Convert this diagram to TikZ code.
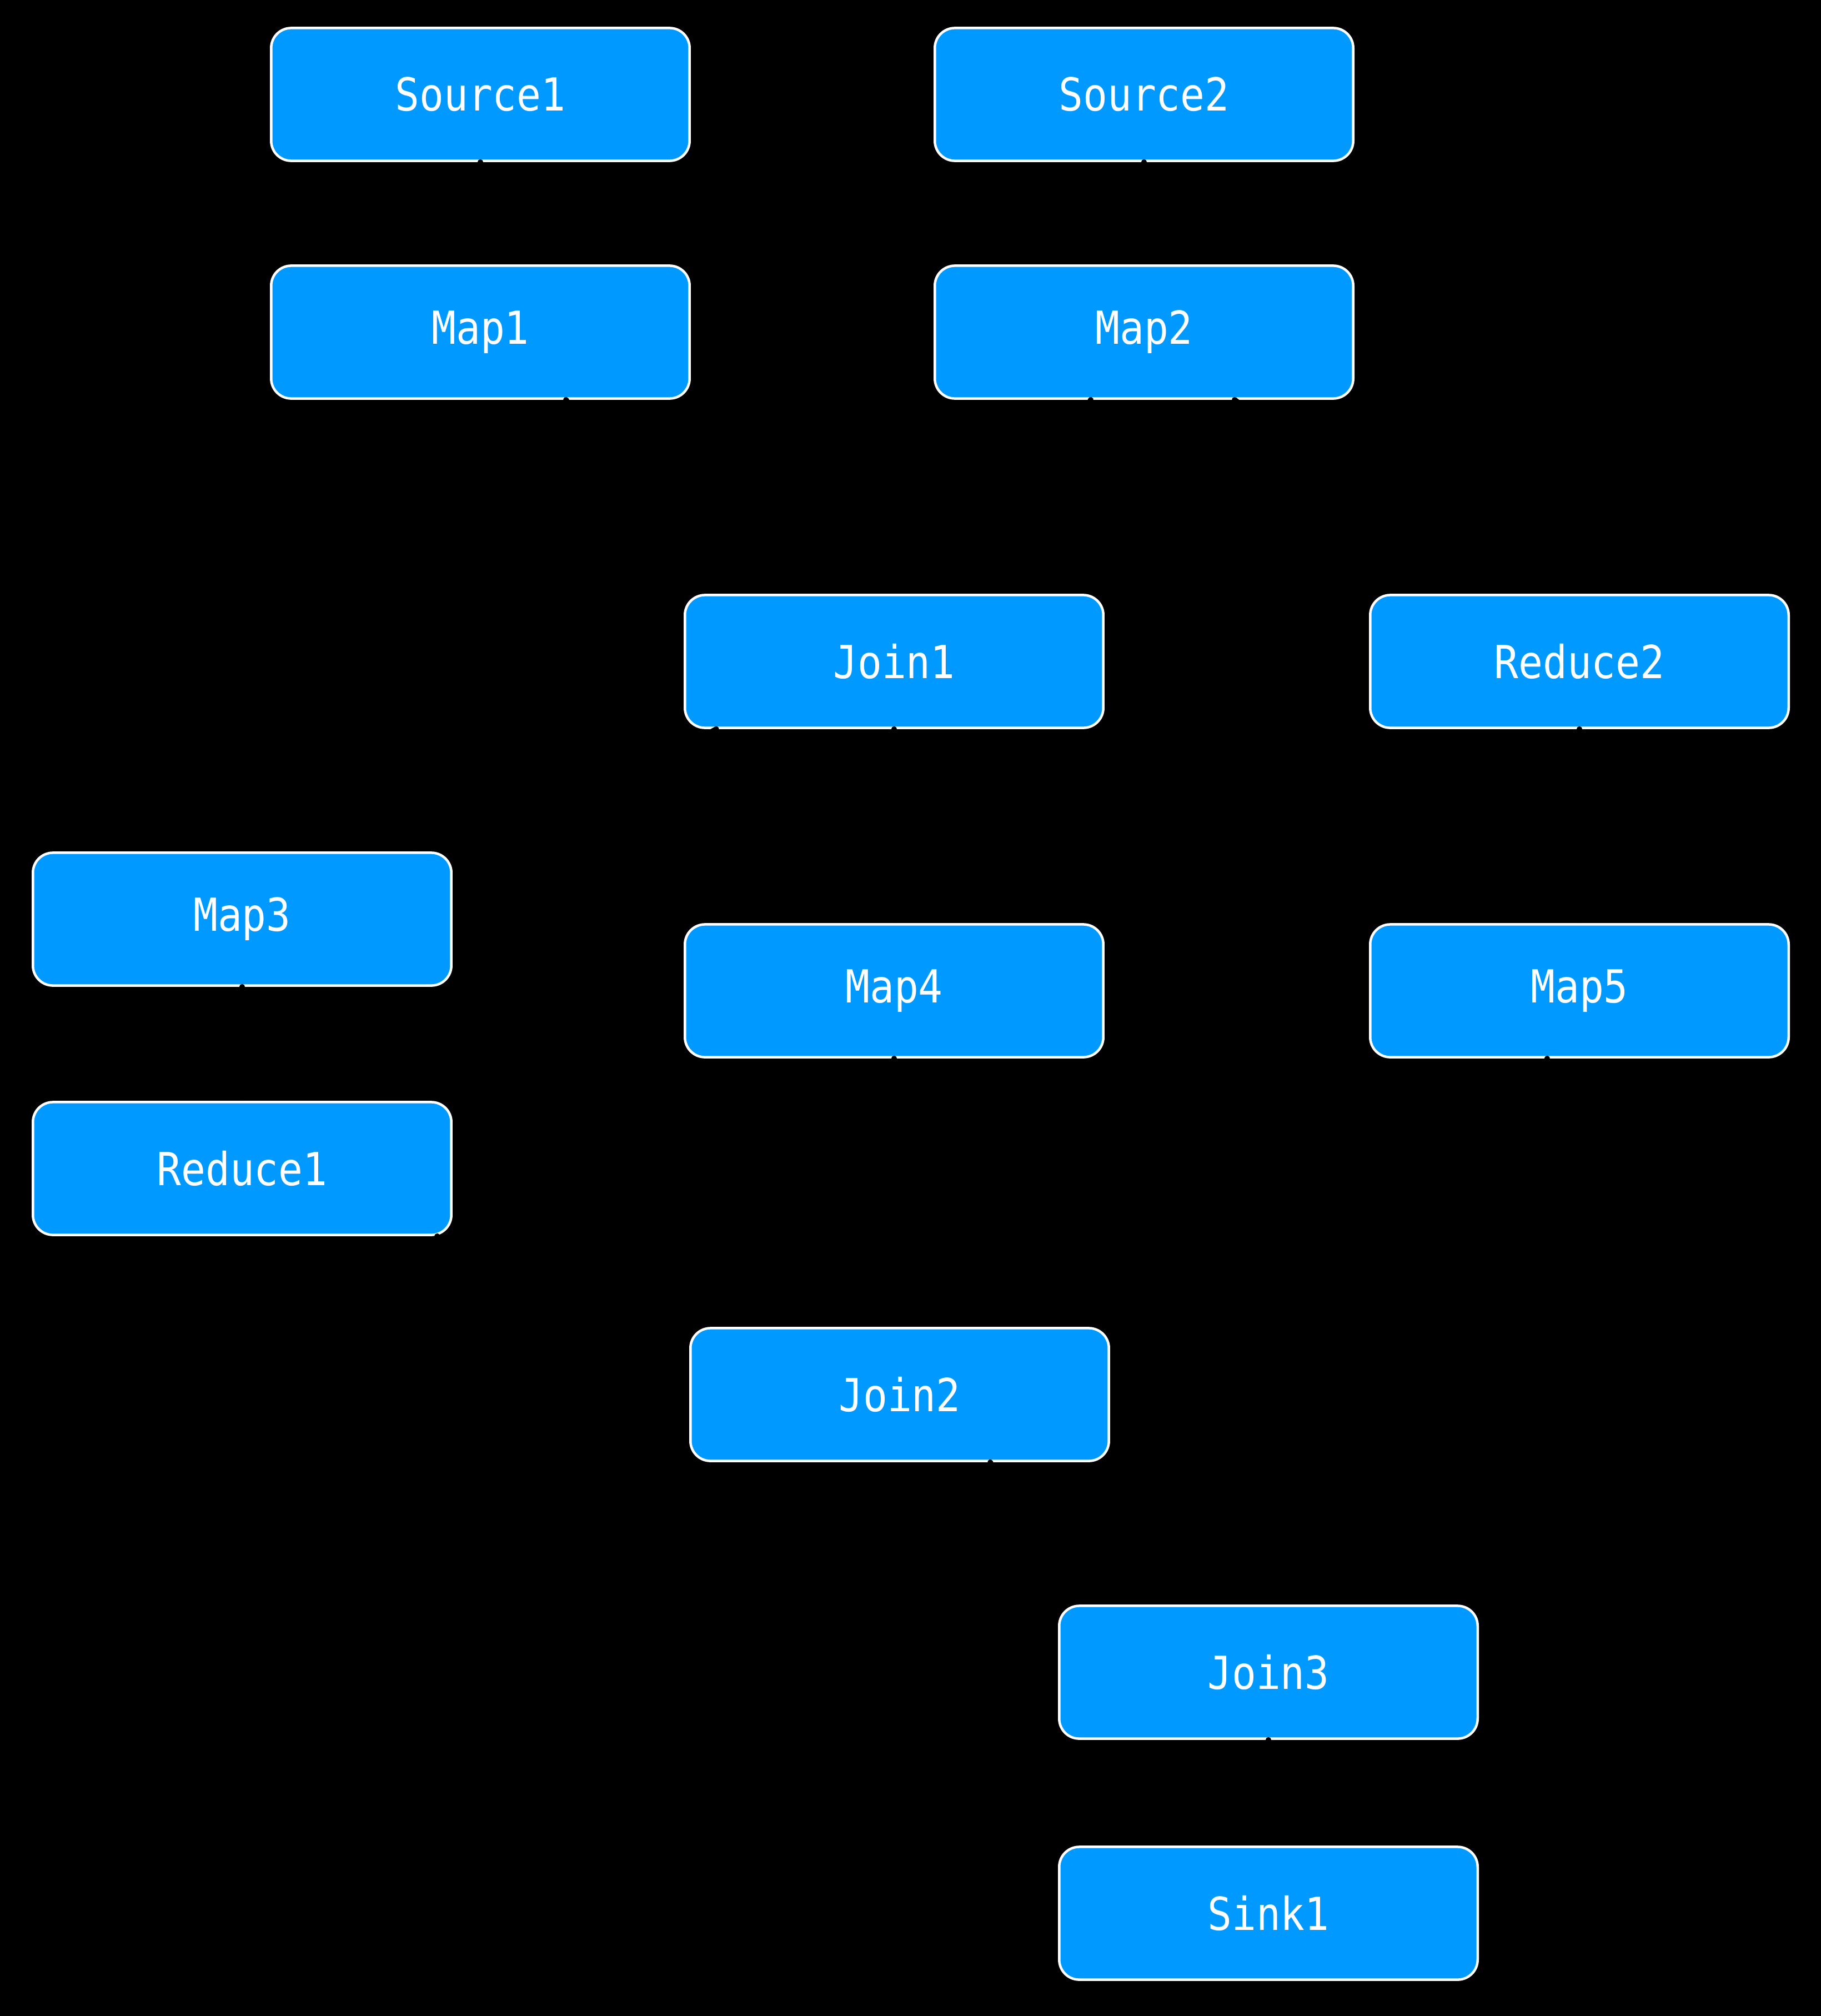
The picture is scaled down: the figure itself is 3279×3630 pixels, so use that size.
\documentclass[tikz,border=0pt]{standalone}
\usepackage{fontspec}
\newfontfamily\labfont[FakeStretch=0.89]{DejaVu Sans Mono}
\usetikzlibrary{arrows.meta}
\definecolor{boxblue}{RGB}{0,153,255}
\tikzset{
  opbox/.style={draw=white, line width=0.045cm, fill=boxblue, rounded corners=0.36cm,
    minimum width=7.53cm, minimum height=2.39cm, inner sep=0pt,
    text=white, font=\labfont\fontsize{23.3pt}{27pt}\selectfont},
  edge/.style={draw=black, line width=0.1cm, line cap=round,
    -{Stealth[length=0.35cm,width=0.3cm]}}
}
\begin{document}
\begin{tikzpicture}[x=0.01cm,y=-0.01cm]
\fill[black] (0,0) rectangle (3279,3630);
\useasboundingbox (0,0) rectangle (3279,3630);

\node[opbox] (source1) at (865,170) {Source1};
\node[opbox] (source2) at (2060,170) {Source2};
\node[opbox] (map1) at (865,598) {Map1};
\node[opbox] (map2) at (2060,598) {Map2};
\node[opbox] (join1) at (1610,1191) {Join1};
\node[opbox] (reduce2) at (2844,1191) {Reduce2};
\node[opbox] (map3) at (436,1655) {Map3};
\node[opbox] (map4) at (1610,1784) {Map4};
\node[opbox] (map5) at (2844,1784) {Map5};
\node[opbox] (reduce1) at (436,2104) {Reduce1};
\node[opbox] (join2) at (1620,2511) {Join2};
\node[opbox] (join3) at (2284,3011) {Join3};
\node[opbox] (sink1) at (2284,3445) {Sink1};

\draw[edge] (source1.south) -- (map1.north);
\draw[edge] (source2.south) -- (map2.north);
\draw[edge] ([xshift=1.54cm]map1.south) to[out=-60,in=95] ([xshift=-1.55cm]join1.north);
\draw[edge] ([xshift=-0.96cm]map2.south) to[out=-110,in=80] ([xshift=0.95cm]join1.north);
\draw[edge] ([xshift=1.63cm]map2.south) to[out=-40,in=100] ([xshift=-1.69cm]reduce2.north);
\draw[edge] ([xshift=-3.2cm]join1.south) to[out=-150,in=60] ([xshift=3.1cm]map3.north);
\draw[edge] (join1.south) -- (map4.north);
\draw[edge] (reduce2.south) -- (map5.north);
\draw[edge] (map3.south) -- (reduce1.north);
\draw[edge] ([xshift=3.51cm]reduce1.south) to[out=-50,in=110] ([xshift=-1.84cm]join2.north);
\draw[edge] (map4.south) to[out=-90,in=90] (join2.north);
\draw[edge] ([xshift=-0.58cm]map5.south) to[out=-100,in=80] ([xshift=1.71cm]join3.north);
\draw[edge] ([xshift=1.63cm]join2.south) to[out=-70,in=110] ([xshift=-1.63cm]join3.north);
\draw[edge] (join3.south) -- (sink1.north);
\end{tikzpicture}
\end{document}
